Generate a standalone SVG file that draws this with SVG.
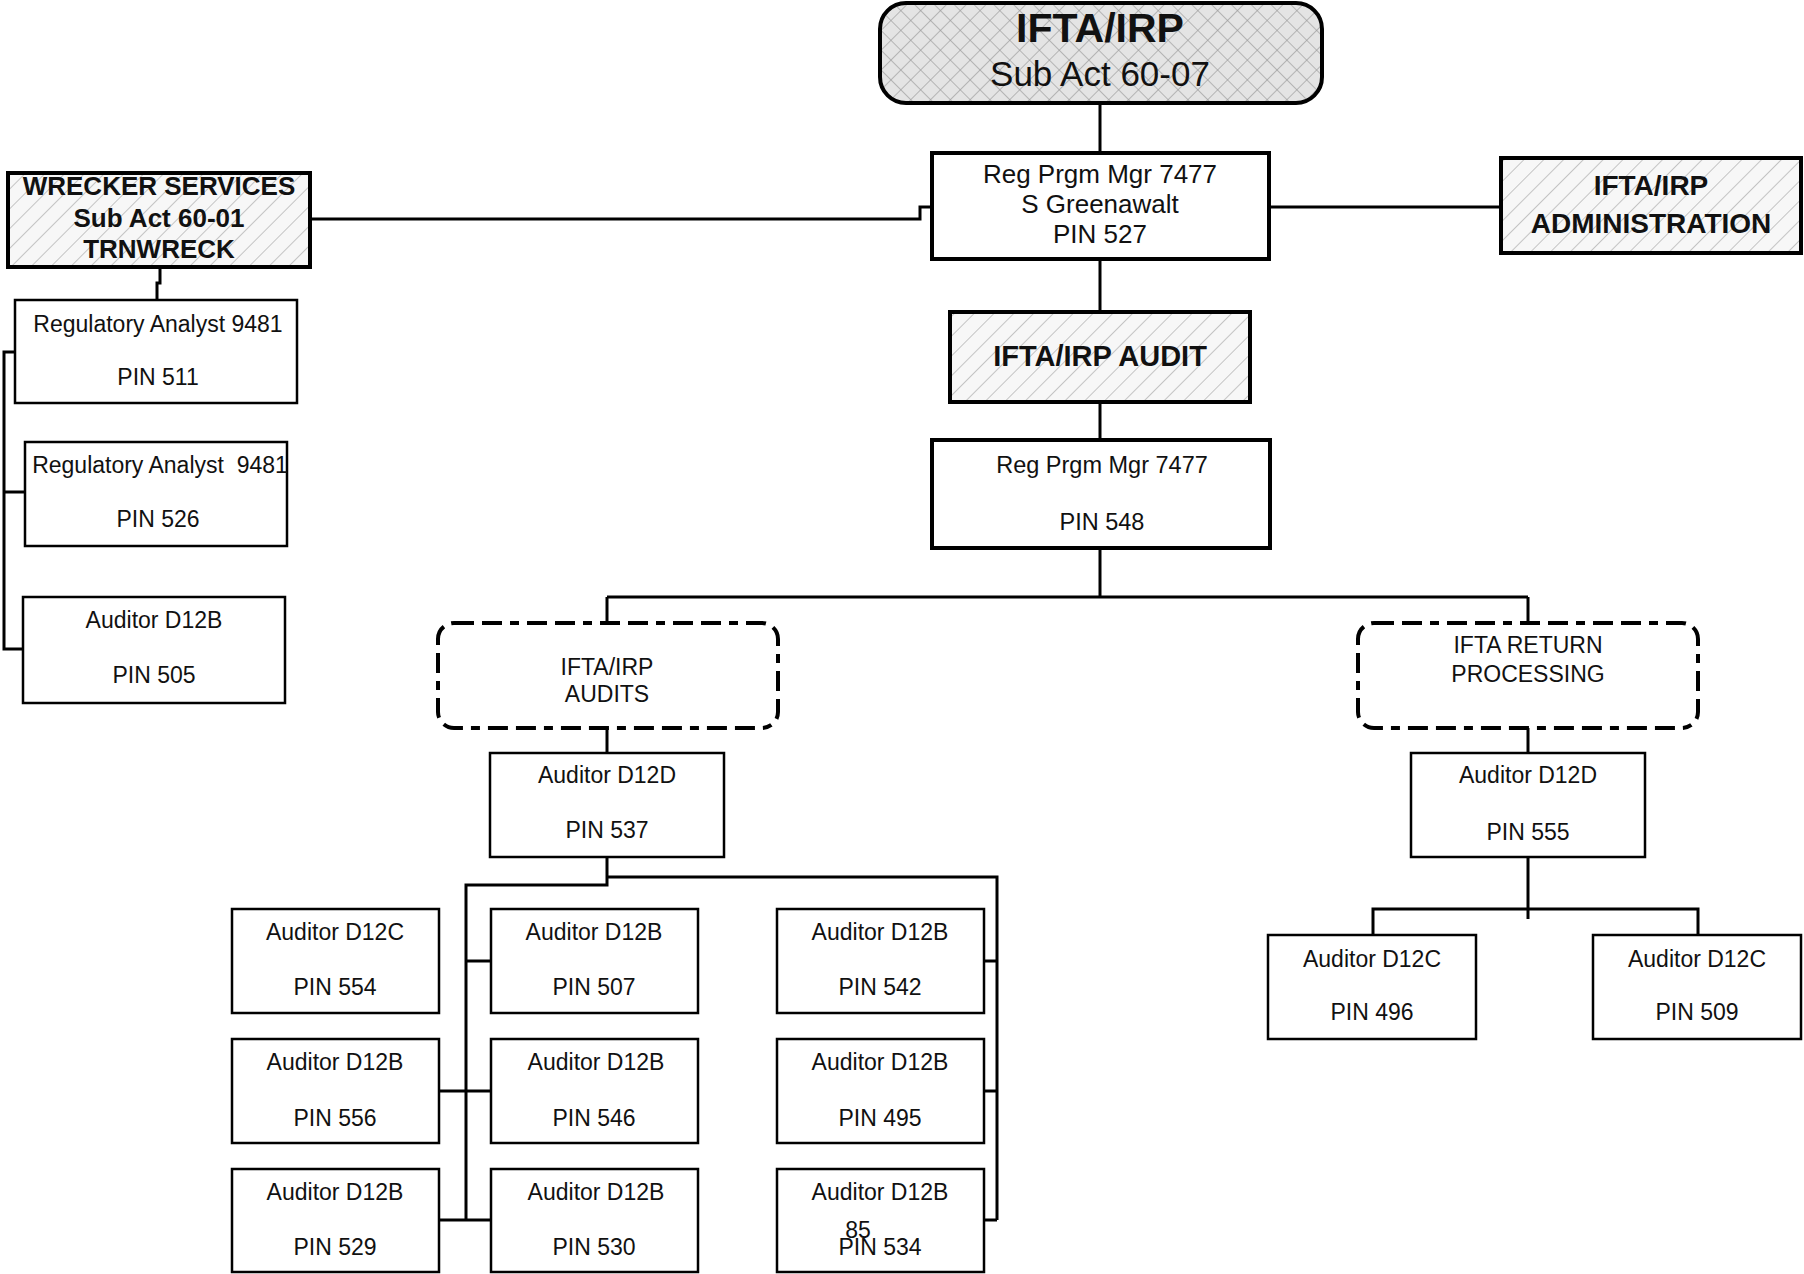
<svg xmlns="http://www.w3.org/2000/svg" width="1804" height="1274" viewBox="0 0 1804 1274">
<defs>
<pattern id="hatch" width="14" height="14" patternUnits="userSpaceOnUse" patternTransform="rotate(45)">
<rect width="14" height="14" fill="#f7f7f7"/>
<line x1="0" y1="0" x2="0" y2="14" stroke="#a8a8a8" stroke-width="1.3"/>
</pattern>
<pattern id="cross" width="14" height="14" patternUnits="userSpaceOnUse" patternTransform="rotate(45)">
<rect width="14" height="14" fill="#e4e4e4"/>
<line x1="0" y1="0" x2="0" y2="14" stroke="#9a9a9a" stroke-width="1.3"/>
<line x1="0" y1="0" x2="14" y2="0" stroke="#9a9a9a" stroke-width="1.3"/>
</pattern>
</defs>
<style>
.thick{fill:#fff;stroke:#000;stroke-width:4}
.thin{fill:#fff;stroke:#000;stroke-width:2.5}
.hat{fill:url(#hatch);stroke:#000;stroke-width:4}
.dash{fill:#fff;stroke:#000;stroke-width:4;stroke-dasharray:20 8 20 8 9 8}
text{font-family:"Liberation Sans",Arial,sans-serif;fill:#111;text-anchor:middle}
.b{font-weight:bold}
.t{font-size:23px}
.conn{fill:none;stroke:#000;stroke-width:3}
</style>
<rect width="1804" height="1274" fill="#fff"/>
<g id="connectors" class="conn">
<path d="M1100 103V153"/>
<path d="M1100 259V312"/>
<path d="M1100 402V440"/>
<path d="M1269 207H1501"/>
<path d="M310 219H920V207H932"/>
<path d="M160 267V283H157V300"/>
<path d="M15 352H4V649H23"/>
<path d="M4 492H25"/>
<path d="M1100 548V597"/>
<path d="M607 597H1528"/>
<path d="M607 597V623"/>
<path d="M1528 597V623"/>
<path d="M607 728V753"/>
<path d="M1528 728V753"/>
<path d="M1528 857V919"/>
<path d="M1373 935V909H1698V935"/>
<path d="M607 857V885H466V1220"/>
<path d="M607 877H997V1220"/>
<path d="M466 961H491"/>
<path d="M439 1091H491"/>
<path d="M439 1220H491"/>
<path d="M984 961H997"/>
<path d="M984 1091H997"/>
<path d="M984 1220H997"/>
</g>
<g id="n-top">
<rect x="880" y="3" width="442" height="100" rx="26" fill="url(#cross)" stroke="#000" stroke-width="4"/>
<text x="1100" y="42" class="b" style="font-size:41px">IFTA/IRP</text>
<text x="1100" y="86" style="font-size:35px">Sub Act 60-07</text>
</g>
<g id="n-527">
<rect x="932" y="153" width="337" height="106" class="thick"/>
<text x="1100" y="183" style="font-size:26px">Reg Prgm Mgr 7477</text>
<text x="1100" y="213" style="font-size:26px">S Greenawalt</text>
<text x="1100" y="243" style="font-size:26px">PIN 527</text>
</g>
<g id="n-wrecker">
<rect x="8" y="173" width="302" height="94" class="hat"/>
<text x="159" y="195" class="b" style="font-size:26px">WRECKER SERVICES</text>
<text x="159" y="227" class="b" style="font-size:26px">Sub Act 60-01</text>
<text x="159" y="258" class="b" style="font-size:26px">TRNWRECK</text>
</g>
<g id="n-admin">
<rect x="1501" y="158" width="300" height="95" class="hat"/>
<text x="1651" y="195" class="b" style="font-size:28px">IFTA/IRP</text>
<text x="1651" y="233" class="b" style="font-size:28px">ADMINISTRATION</text>
</g>
<g id="n-audit">
<rect x="950" y="312" width="300" height="90" class="hat"/>
<text x="1100" y="366" class="b" style="font-size:29px">IFTA/IRP AUDIT</text>
</g>
<g id="n-548">
<rect x="932" y="440" width="338" height="108" class="thick"/>
<text x="1102" y="473" style="font-size:23.5px">Reg Prgm Mgr 7477</text>
<text x="1102" y="530" style="font-size:23.5px">PIN 548</text>
</g>
<g id="n-511">
<rect x="15" y="300" width="282" height="103" class="thin"/>
<text x="158" y="332" class="t">Regulatory Analyst 9481</text>
<text x="158" y="385" class="t">PIN 511</text>
</g>
<g id="n-526">
<rect x="25" y="442" width="262" height="104" class="thin"/>
<text x="160" y="473" class="t" style="white-space:pre">Regulatory Analyst  9481</text>
<text x="158" y="527" class="t">PIN 526</text>
</g>
<g id="n-505">
<rect x="23" y="597" width="262" height="106" class="thin"/>
<text x="154" y="628" class="t">Auditor D12B</text>
<text x="154" y="683" class="t">PIN 505</text>
</g>
<g id="n-audits">
<rect x="438" y="623" width="340" height="105" rx="16" class="dash"/>
<text x="607" y="675" class="t">IFTA/IRP</text>
<text x="607" y="702" class="t">AUDITS</text>
</g>
<g id="n-return">
<rect x="1358" y="623" width="340" height="105" rx="16" class="dash"/>
<text x="1528" y="653" class="t">IFTA RETURN</text>
<text x="1528" y="682" class="t">PROCESSING</text>
</g>
<g id="n-537">
<rect x="490" y="753" width="234" height="104" class="thin"/>
<text x="607" y="783" class="t">Auditor D12D</text>
<text x="607" y="838" class="t">PIN 537</text>
</g>
<g id="n-555">
<rect x="1411" y="753" width="234" height="104" class="thin"/>
<text x="1528" y="783" class="t">Auditor D12D</text>
<text x="1528" y="840" class="t">PIN 555</text>
</g>
<g id="n-496">
<rect x="1268" y="935" width="208" height="104" class="thin"/>
<text x="1372" y="967" class="t">Auditor D12C</text>
<text x="1372" y="1020" class="t">PIN 496</text>
</g>
<g id="n-509">
<rect x="1593" y="935" width="208" height="104" class="thin"/>
<text x="1697" y="967" class="t">Auditor D12C</text>
<text x="1697" y="1020" class="t">PIN 509</text>
</g>
<g id="n-554">
<rect x="232" y="909" width="207" height="104" class="thin"/>
<text x="335" y="940" class="t">Auditor D12C</text>
<text x="335" y="995" class="t">PIN 554</text>
</g>
<g id="n-507">
<rect x="491" y="909" width="207" height="104" class="thin"/>
<text x="594" y="940" class="t">Auditor D12B</text>
<text x="594" y="995" class="t">PIN 507</text>
</g>
<g id="n-542">
<rect x="777" y="909" width="207" height="104" class="thin"/>
<text x="880" y="940" class="t">Auditor D12B</text>
<text x="880" y="995" class="t">PIN 542</text>
</g>
<g id="n-556">
<rect x="232" y="1039" width="207" height="104" class="thin"/>
<text x="335" y="1070" class="t">Auditor D12B</text>
<text x="335" y="1126" class="t">PIN 556</text>
</g>
<g id="n-546">
<rect x="491" y="1039" width="207" height="104" class="thin"/>
<text x="596" y="1070" class="t">Auditor D12B</text>
<text x="594" y="1126" class="t">PIN 546</text>
</g>
<g id="n-495">
<rect x="777" y="1039" width="207" height="104" class="thin"/>
<text x="880" y="1070" class="t">Auditor D12B</text>
<text x="880" y="1126" class="t">PIN 495</text>
</g>
<g id="n-529">
<rect x="232" y="1169" width="207" height="103" class="thin"/>
<text x="335" y="1200" class="t">Auditor D12B</text>
<text x="335" y="1255" class="t">PIN 529</text>
</g>
<g id="n-530">
<rect x="491" y="1169" width="207" height="103" class="thin"/>
<text x="596" y="1200" class="t">Auditor D12B</text>
<text x="594" y="1255" class="t">PIN 530</text>
</g>
<g id="n-534">
<rect x="777" y="1169" width="207" height="103" class="thin"/>
<text x="880" y="1200" class="t">Auditor D12B</text>
<text x="858" y="1238" class="t">85</text>
<text x="880" y="1255" class="t">PIN 534</text>
</g>
</svg>
